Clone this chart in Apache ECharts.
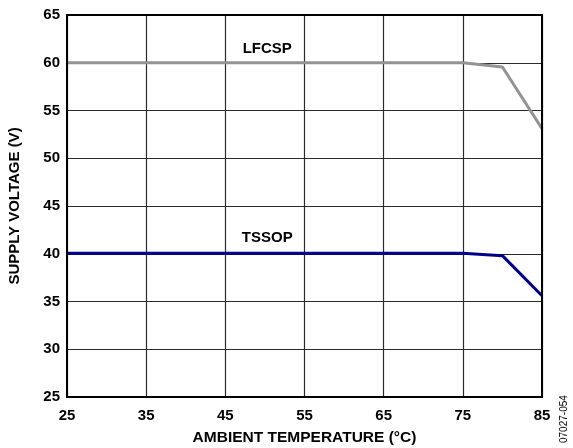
<!DOCTYPE html>
<html>
<head>
<meta charset="utf-8">
<script src="https://cdn.jsdelivr.net/npm/echarts@6/dist/echarts.min.js"></script>
<style>
  html, body { margin: 0; padding: 0; background: #fff; }
  #chart { width: 573px; height: 448px; }
</style>
</head>
<body>
<div id="chart"></div>
<script>
var temps = [25, 35, 45, 55, 65, 75, 80, 85];
var lfcsp = [60, 60, 60, 60, 60, 60, 59.55, 53.1];
var tssop = [40.05, 40.05, 40.05, 40.05, 40.05, 40.05, 39.8, 35.6];
var seriesNames = ['LFCSP', 'TSSOP'];
var labelPos = [[50.3, 61.5], [50.3, 41.7]];

function pairs(xs, ys) {
  return xs.map(function (x, i) { return [x, ys[i]]; });
}

var chart = echarts.init(document.getElementById('chart'));
var font = 'Liberation Sans, Arial, sans-serif';
var txt = { fontFamily: font, fontWeight: 'bold', fontSize: 15, color: '#000' };

function seriesLabel(name, pos) {
  return {
    symbol: 'circle', symbolSize: 0,
    label: Object.assign({ show: true, position: 'inside', formatter: name }, txt),
    data: [{ coord: pos }]
  };
}

var option = {
  animation: false,
  grid: { left: 67, right: 31, top: 15, bottom: 51, outerBoundsMode: 'none', containLabel: false },
  xAxis: {
    type: 'value', min: 25, max: 85, interval: 10,
    name: 'AMBIENT TEMPERATURE (°C)', nameLocation: 'middle', nameGap: 33,
    nameTextStyle: Object.assign({}, txt, { fontSize: 15.5 }),
    axisLine: { show: false },
    axisTick: { show: false },
    axisLabel: Object.assign({ margin: 11 }, txt),
    splitLine: { show: true, lineStyle: { color: '#2a2a2a', width: 1.2 } }
  },
  yAxis: {
    type: 'value', min: 25, max: 65, interval: 5,
    name: 'SUPPLY VOLTAGE (V)', nameLocation: 'middle', nameGap: 45,
    nameTextStyle: txt,
    axisLine: { show: false },
    axisTick: { show: false },
    axisLabel: Object.assign({ margin: 7 }, txt),
    splitLine: { show: true, lineStyle: { color: '#2a2a2a', width: 1.2 } }
  },
  graphic: [
    { type: 'rect', shape: { x: 67, y: 15, width: 475, height: 382 },
      style: { fill: 'none', stroke: '#000', lineWidth: 2 }, z: 100 },
    { type: 'text', x: 559, y: 443, rotation: Math.PI / 2,
      style: { text: '07027-054', font: '10px ' + font, fill: '#000', textAlign: 'left', textVerticalAlign: 'top' } }
  ],
  series: [
    {
      name: seriesNames[0], type: 'line', data: pairs(temps, lfcsp),
      symbol: 'none', lineStyle: { color: '#939393', width: 3 },
      markPoint: seriesLabel(seriesNames[0], labelPos[0])
    },
    {
      name: seriesNames[1], type: 'line', data: pairs(temps, tssop),
      symbol: 'none', lineStyle: { color: '#00008b', width: 3 },
      markPoint: seriesLabel(seriesNames[1], labelPos[1])
    }
  ]
};

chart.setOption(option);
</script>
</body>
</html>
